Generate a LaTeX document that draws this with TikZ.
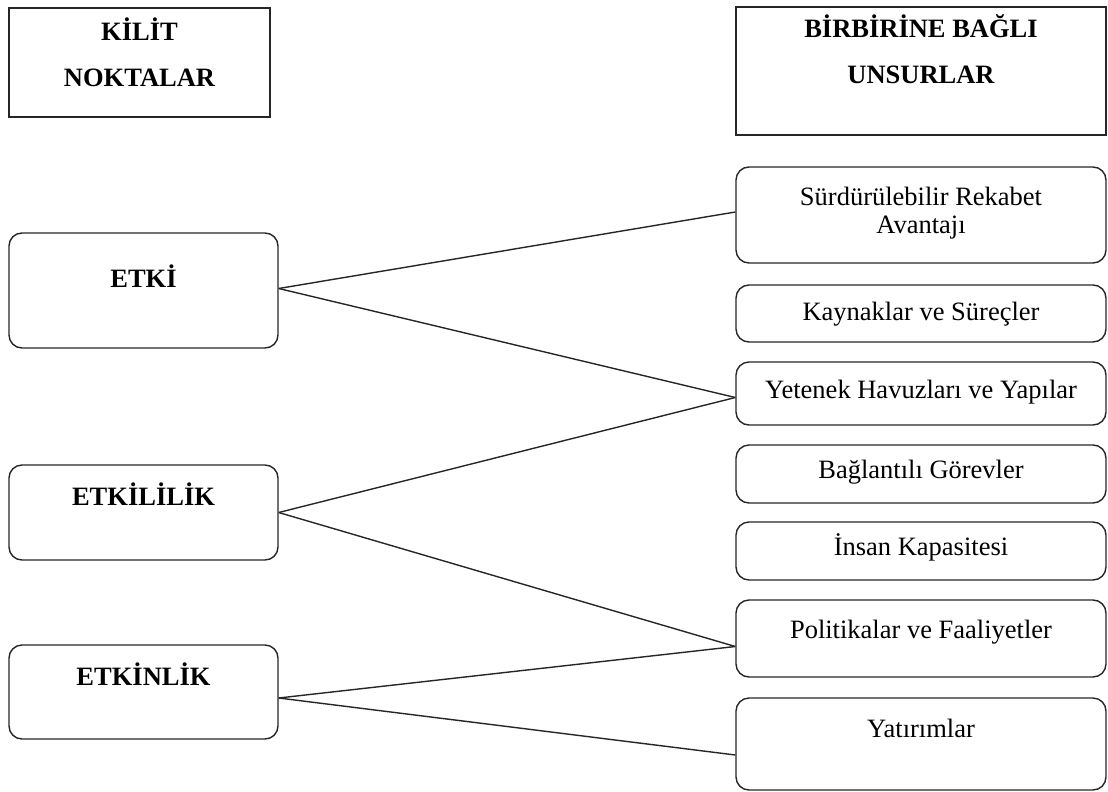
\documentclass[tikz,border=0pt]{standalone}
\usepackage{fontspec}
\setmainfont{Liberation Serif}
\begin{document}
\begin{tikzpicture}[x=1pt,y=-1pt,
  frame/.style={draw=black!85,line width=1.4pt,inner sep=0pt},
  sqbox/.style={frame},
  rbox/.style={frame,rounded corners=13pt},
  txt/.style={inner sep=0pt,anchor=base,align=center,font=\fontsize{26.5}{28}\selectfont},
  head/.style={txt,font=\fontsize{26.5}{46}\selectfont\bfseries},
  link/.style={draw=black!85,line width=1.4pt}]
\useasboundingbox (0,0) rectangle (1108,792);

% column headings (multi-line labels are placed by their last baseline)
\node[sqbox,minimum width=261pt,minimum height=109pt] (kn) at (139.5,62.5) {};
\node[head] (knt) at (139.5,86) {KİLİT\\NOKTALAR};
\node[sqbox,minimum width=370pt,minimum height=128pt] (bb) at (921,71) {};
\node[head] (bbt) at (921,83) {BİRBİRİNE BAĞLI\\UNSURLAR};

% key points (left column)
\node[rbox,minimum width=269pt,minimum height=115pt] (etki) at (143.5,290.5) {};
\node[head] (etkit) at (143.5,287) {ETKİ};
\node[rbox,minimum width=269pt,minimum height=95pt] (ll) at (143.5,512.5) {};
\node[head] (llt) at (143.5,505) {ETKİLİLİK};
\node[rbox,minimum width=269pt,minimum height=94pt] (lk) at (143.5,692) {};
\node[head] (lkt) at (143.5,685) {ETKİNLİK};

% interconnected elements (right column)
\node[rbox,minimum width=370pt,minimum height=96pt] (s) at (921,215) {};
\node[txt] (st) at (921,233) {Sürdürülebilir Rekabet\\Avantajı};
\node[rbox,minimum width=370pt,minimum height=57pt] (k) at (921,313.5) {};
\node[txt] (kt) at (921,320) {Kaynaklar ve Süreçler};
\node[rbox,minimum width=370pt,minimum height=63pt] (y) at (921,393.5) {};
\node[txt] (yt) at (921,398) {Yetenek Havuzları ve Yapılar};
\node[rbox,minimum width=370pt,minimum height=58pt] (b) at (921,474) {};
\node[txt] (bt) at (921,478) {Bağlantılı Görevler};
\node[rbox,minimum width=370pt,minimum height=58pt] (i) at (921,551) {};
\node[txt] (it) at (921,555) {İnsan Kapasitesi};
\node[rbox,minimum width=370pt,minimum height=77pt] (p) at (921,638.5) {};
\node[txt] (pt) at (921,638) {Politikalar ve Faaliyetler};
\node[rbox,minimum width=370pt,minimum height=92pt] (yat) at (921,744) {};
\node[txt] (yatt) at (921,737) {Yatırımlar};

% connectors
\draw[link] ([yshift=2pt]etki.east) -- ([yshift=3pt]s.west);
\draw[link] ([yshift=2pt]etki.east) -- ([yshift=-4pt]y.west);
\draw[link] (ll.east) -- ([yshift=-4pt]y.west);
\draw[link] (ll.east) -- ([yshift=-8pt]p.west);
\draw[link] ([yshift=-6pt]lk.east) -- ([yshift=-8pt]p.west);
\draw[link] ([yshift=-6pt]lk.east) -- ([yshift=-11pt]yat.west);
\end{tikzpicture}
\end{document}
